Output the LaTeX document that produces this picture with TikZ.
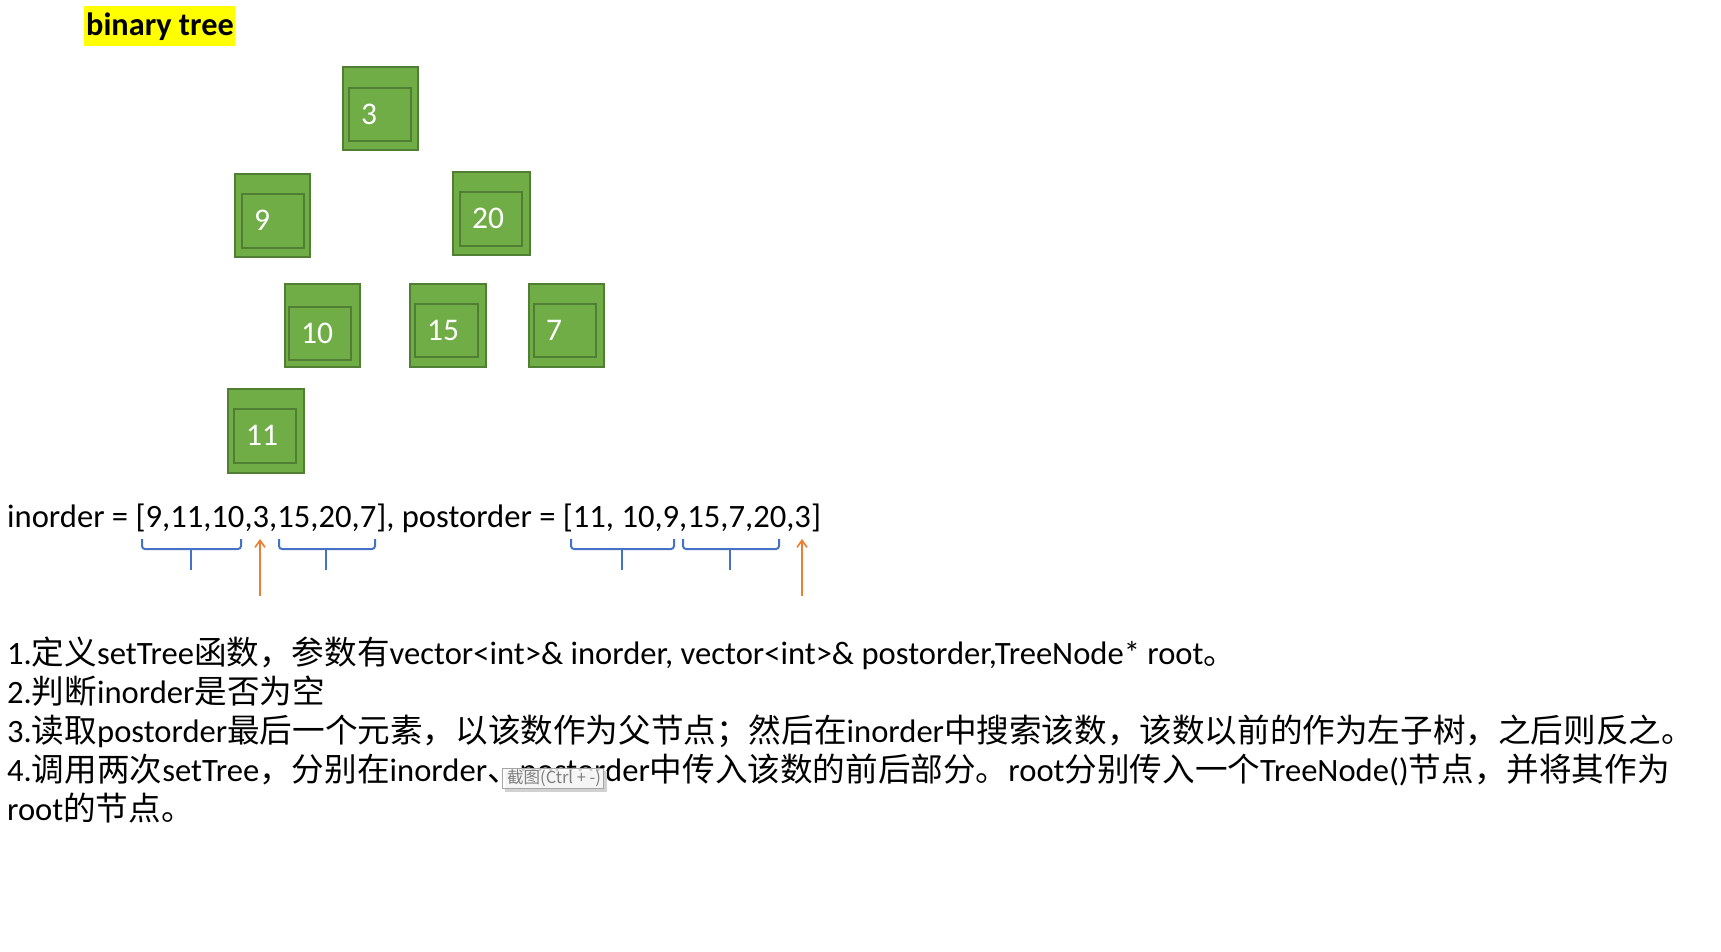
\documentclass[tikz,border=0pt]{standalone}
\usepackage{fontspec}
\setmainfont{Carlito}
\newfontfamily\cjk{Noto Sans CJK SC}
\usetikzlibrary{arrows.meta,fit}
\definecolor{gfill}{HTML}{70AD47}
\definecolor{gline}{HTML}{507E32}
\definecolor{bblue}{HTML}{4472C4}
\definecolor{aorange}{HTML}{ED7D31}
\definecolor{hyellow}{HTML}{FFFF00}
\definecolor{tipgray}{HTML}{7F7F7F}
\tikzset{
  outerbox/.style={draw=gline, fill=gfill, line width=2.2pt, inner sep=0pt},
  innerbox/.style={draw=gline, line width=2.2pt, inner sep=0pt},
  digit/.style={anchor=base west, text=white, inner sep=0pt, font=\fontsize{31.5}{37}\selectfont},
  bodytext/.style={anchor=base west, inner sep=0pt, font=\fontsize{32.6}{38}\selectfont},
  bracepath/.style={draw=bblue, line width=2pt, rounded corners=3pt},
  uparrow/.style={draw=aorange, line width=1.6pt, -{Straight Barb[length=7pt,width=10pt]}},
}
\newcommand\treebox[6]{%
  \node[outerbox, fit={(#2)(#3)}] (#1) {};
  \node[innerbox, fit={(#4)(#5)}] (#1-in) {};
  \node[digit] (#1-t) at ([xshift=13pt,yshift=-37.5pt]#1-in.north west) {#6};
}
\begin{document}
\begin{tikzpicture}[x=1pt,y=-1pt]
\useasboundingbox[fill=white] (0,0) rectangle (1721,952);

% title
\node[fill=hyellow, inner sep=0pt, minimum width=151pt, minimum height=40pt, anchor=north west] (title) at (84,6) {};
\node[anchor=base west, inner sep=0pt, font=\bfseries\fontsize{32.3}{38}\selectfont] (titletext) at (86,36) {binary tree};

% tree boxes
\treebox{n3}{343,67}{418,150}{349,88}{411,141}{3}
\treebox{n9}{235,174}{310,257}{242,194}{304,248}{9}
\treebox{n20}{453,172}{530,255}{460,192}{522,246}{20}
\treebox{n10}{285,284}{360,367}{289,307}{351,360}{10}
\treebox{n15}{410,284}{486,367}{415,304}{478,357}{15}
\treebox{n7}{529,284}{604,367}{534,304}{596,357}{7}
\treebox{n11}{228,389}{304,473}{234,409}{296,463}{11}

% order line
\node[bodytext] (orders) at (7,527) {inorder = [9,11,10,3,15,20,7], postorder = [11, 10,9,15,7,20,3]};

% braces
\path (142,539) coordinate (b1l) (241,539) coordinate (b1r) (191,570) coordinate (b1s);
\path (279,539) coordinate (b2l) (375,539) coordinate (b2r) (326,570) coordinate (b2s);
\path (571,539) coordinate (b3l) (674,539) coordinate (b3r) (622,570) coordinate (b3s);
\path (683,539) coordinate (b4l) (779,539) coordinate (b4r) (730,570) coordinate (b4s);
\foreach \b in {b1,b2,b3,b4}{
  \draw[bracepath] (\b l) -- (\b l |- 0,549) -- (\b r |- 0,549) -- (\b r);
  \draw[draw=bblue, line width=2pt] (\b s |- 0,549) -- (\b s);
}
% arrows
\coordinate (a1b) at (260,596); \coordinate (a1t) at (260,539);
\coordinate (a2b) at (802,596); \coordinate (a2t) at (802,539);
\draw[uparrow] (a1b) -- (a1t);
\draw[uparrow] (a2b) -- (a2t);

% steps
\node[bodytext] (s1) at (7,664) {1.{\cjk 定义}setTree{\cjk 函数，参数有}vector<int>\& inorder, vector<int>\& postorder,TreeNode* root{\cjk 。}};
\node[bodytext] (s2) at (7,703) {2.{\cjk 判断}inorder{\cjk 是否为空}};
\node[bodytext] (s3) at (7,742) {3.{\cjk 读取}postorder{\cjk 最后一个元素，以该数作为父节点；然后在}inorder{\cjk 中搜索该数，该数以前的作为左子树，之后则反之。}};
\node[bodytext] (s4) at (7,781) {4.{\cjk 调用两次}setTree{\cjk ，分别在}inorder{\cjk 、}postorder{\cjk 中传入该数的前后部分。}root{\cjk 分别传入一个}TreeNode(){\cjk 节点，并将其作为}};
\node[bodytext] (s5) at (7,820) {root{\cjk 的节点。}};

% screenshot tooltip
\fill[black!18] (505,771) rectangle (607,792);
\node[draw=tipgray!70, fill=white, fill opacity=0.8, text opacity=1, line width=1pt, inner sep=0pt, minimum width=101pt, minimum height=20pt, anchor=north west] (tip) at (502,768) {};
\node[anchor=west, inner sep=0pt, text=tipgray, font=\cjk\fontsize{16.5}{19}\selectfont] (tiptext) at ([xshift=5pt]tip.west) {截图(Ctrl + -)};
\end{tikzpicture}
\end{document}
